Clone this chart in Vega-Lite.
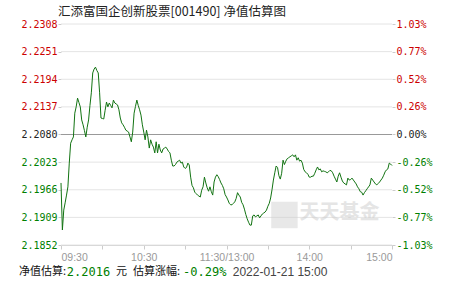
{
  "$schema": "https://vega.github.io/schema/vega-lite/v6.json",
  "width": 331,
  "height": 221,
  "autosize": {"type": "none"},
  "padding": {"left": 61, "top": 24, "right": 59, "bottom": 36},
  "background": "white",
  "title": {"text": "汇添富国企创新股票[001490] 净值估算图", "anchor": "start", "frame": "group", "font": "Noto Sans CJK SC", "fontSize": 12.5, "fontWeight": "normal", "color": "#222", "dx": -3, "offset": 1},
  "config": {"view": {"stroke": null}, "axis": {"labelOverlap": false}},
  "datasets": {
    "levels": [
      {"g": 2.1852}, {"g": 2.1909}, {"g": 2.1966}, {"g": 2.2023}, {"g": 2.208}, {"g": 2.2137}, {"g": 2.2194}, {"g": 2.2251}, {"g": 2.2308}
    ],
    "nav": [
      {"t":0,"v":2.1980},{"t":1,"v":2.1883},{"t":2,"v":2.1924},{"t":3,"v":2.1939},{"t":4,"v":2.1955},{"t":5,"v":2.1972},{"t":6,"v":2.2021},{"t":7,"v":2.2062},{"t":8,"v":2.2069},{"t":9,"v":2.2075},
      {"t":10,"v":2.2124},{"t":11,"v":2.2137},{"t":12,"v":2.2155},{"t":13,"v":2.2146},{"t":14,"v":2.2137},{"t":15,"v":2.2110},{"t":16,"v":2.2100},{"t":17,"v":2.2088},{"t":18,"v":2.2075},{"t":19,"v":2.2095},
      {"t":20,"v":2.2110},{"t":21,"v":2.2140},{"t":22,"v":2.2166},{"t":23,"v":2.2207},{"t":24,"v":2.2215},{"t":25,"v":2.2219},{"t":26,"v":2.2212},{"t":27,"v":2.2207},{"t":28,"v":2.2166},{"t":29,"v":2.2114},
      {"t":30,"v":2.2113},{"t":31,"v":2.2112},{"t":32,"v":2.2130},{"t":33,"v":2.2147},{"t":34,"v":2.2137},{"t":35,"v":2.2145},{"t":36,"v":2.2140},{"t":37,"v":2.2135},{"t":38,"v":2.2151},{"t":39,"v":2.2145},
      {"t":40,"v":2.2143},{"t":41,"v":2.2141},{"t":42,"v":2.2131},{"t":43,"v":2.2114},{"t":44,"v":2.2104},{"t":45,"v":2.2100},{"t":46,"v":2.2095},{"t":47,"v":2.2089},{"t":48,"v":2.2087},{"t":49,"v":2.2085},
      {"t":50,"v":2.2075},{"t":51,"v":2.2065},{"t":52,"v":2.2085},{"t":53,"v":2.2124},{"t":54,"v":2.2138},{"t":55,"v":2.2151},{"t":56,"v":2.2140},{"t":57,"v":2.2131},{"t":58,"v":2.2120},{"t":59,"v":2.2100},
      {"t":60,"v":2.2085},{"t":61,"v":2.2069},{"t":62,"v":2.2089},{"t":63,"v":2.2075},{"t":64,"v":2.2052},{"t":65,"v":2.2069},{"t":66,"v":2.2060},{"t":67,"v":2.2054},{"t":68,"v":2.2042},{"t":69,"v":2.2065},
      {"t":70,"v":2.2042},{"t":71,"v":2.2060},{"t":72,"v":2.2048},{"t":73,"v":2.2042},{"t":74,"v":2.2050},{"t":75,"v":2.2052},{"t":76,"v":2.2054},{"t":77,"v":2.2050},{"t":78,"v":2.2045},{"t":79,"v":2.2042},
      {"t":80,"v":2.2027},{"t":81,"v":2.2015},{"t":82,"v":2.2015},{"t":83,"v":2.2018},{"t":84,"v":2.2023},{"t":85,"v":2.2025},{"t":86,"v":2.2027},{"t":87,"v":2.2021},{"t":88,"v":2.2023},{"t":89,"v":2.2013},
      {"t":90,"v":2.2010},{"t":91,"v":2.2012},{"t":92,"v":2.2021},{"t":93,"v":2.2017},{"t":94,"v":2.1992},{"t":95,"v":2.1975},{"t":96,"v":2.1970},{"t":97,"v":2.1961},{"t":98,"v":2.1958},{"t":99,"v":2.1955},
      {"t":100,"v":2.1953},{"t":101,"v":2.1951},{"t":102,"v":2.1965},{"t":103,"v":2.1972},{"t":104,"v":2.1992},{"t":105,"v":2.1980},{"t":106,"v":2.1970},{"t":107,"v":2.1963},{"t":108,"v":2.1972},{"t":109,"v":2.1962},
      {"t":110,"v":2.1955},{"t":111,"v":2.1982},{"t":112,"v":2.1992},{"t":113,"v":2.1997},{"t":114,"v":2.1993},{"t":115,"v":2.1987},{"t":116,"v":2.1980},{"t":117,"v":2.1975},{"t":118,"v":2.1968},{"t":119,"v":2.1956},
      {"t":120,"v":2.1951},{"t":121,"v":2.1945},{"t":122,"v":2.1938},{"t":123,"v":2.1935},{"t":124,"v":2.1935},{"t":125,"v":2.1938},{"t":126,"v":2.1941},{"t":127,"v":2.1948},{"t":128,"v":2.1960},{"t":129,"v":2.1955},
      {"t":130,"v":2.1951},{"t":131,"v":2.1940},{"t":132,"v":2.1935},{"t":133,"v":2.1926},{"t":134,"v":2.1915},{"t":135,"v":2.1906},{"t":136,"v":2.1899},{"t":137,"v":2.1893},{"t":138,"v":2.1893},{"t":139,"v":2.1912},
      {"t":140,"v":2.1914},{"t":141,"v":2.1910},{"t":142,"v":2.1912},{"t":143,"v":2.1914},{"t":144,"v":2.1908},{"t":145,"v":2.1912},{"t":146,"v":2.1916},{"t":147,"v":2.1918},{"t":148,"v":2.1920},{"t":149,"v":2.1924},
      {"t":150,"v":2.1932},{"t":151,"v":2.1938},{"t":152,"v":2.1949},{"t":153,"v":2.1966},{"t":154,"v":2.1986},{"t":155,"v":2.2001},{"t":156,"v":2.2015},{"t":157,"v":2.2012},{"t":158,"v":2.1995},{"t":159,"v":2.1988},
      {"t":160,"v":2.2000},{"t":161,"v":2.2027},{"t":162,"v":2.2018},{"t":163,"v":2.2025},{"t":164,"v":2.2030},{"t":165,"v":2.2032},{"t":166,"v":2.2034},{"t":167,"v":2.2036},{"t":168,"v":2.2038},{"t":169,"v":2.2034},
      {"t":170,"v":2.2038},{"t":171,"v":2.2027},{"t":172,"v":2.2032},{"t":173,"v":2.2025},{"t":174,"v":2.2027},{"t":175,"v":2.2021},{"t":176,"v":2.2008},{"t":177,"v":2.2003},{"t":178,"v":2.2001},{"t":179,"v":2.1998},
      {"t":180,"v":2.1992},{"t":181,"v":2.1992},{"t":182,"v":2.1994},{"t":183,"v":2.1994},{"t":184,"v":2.2000},{"t":185,"v":2.2007},{"t":186,"v":2.2013},{"t":187,"v":2.2007},{"t":188,"v":2.2009},{"t":189,"v":2.2003},
      {"t":190,"v":2.2005},{"t":191,"v":2.2004},{"t":192,"v":2.2003},{"t":193,"v":2.2001},{"t":194,"v":2.2003},{"t":195,"v":2.2006},{"t":196,"v":2.2005},{"t":197,"v":2.2001},{"t":198,"v":2.1994},{"t":199,"v":2.1988},
      {"t":200,"v":2.1982},{"t":201,"v":2.1994},{"t":202,"v":2.2001},{"t":203,"v":2.1992},{"t":204,"v":2.1984},{"t":205,"v":2.1980},{"t":206,"v":2.1978},{"t":207,"v":2.1976},{"t":208,"v":2.1990},{"t":209,"v":2.1986},
      {"t":210,"v":2.1987},{"t":211,"v":2.1990},{"t":212,"v":2.1986},{"t":213,"v":2.1982},{"t":214,"v":2.1978},{"t":215,"v":2.1972},{"t":216,"v":2.1968},{"t":217,"v":2.1962},{"t":218,"v":2.1961},{"t":219,"v":2.1955},
      {"t":220,"v":2.1960},{"t":221,"v":2.1964},{"t":222,"v":2.1968},{"t":223,"v":2.1972},{"t":224,"v":2.1976},{"t":225,"v":2.1990},{"t":226,"v":2.1986},{"t":227,"v":2.1982},{"t":228,"v":2.1978},{"t":229,"v":2.1976},
      {"t":230,"v":2.1979},{"t":231,"v":2.1982},{"t":232,"v":2.1986},{"t":233,"v":2.1990},{"t":234,"v":2.1996},{"t":235,"v":2.2003},{"t":236,"v":2.2007},{"t":237,"v":2.2009},{"t":238,"v":2.2021},{"t":239,"v":2.2019},
      {"t":240,"v":2.2016}
    ],
    "foot": [
      {"s":"净值估算:","t":-30.5,"k":"lab"},
      {"s":"2.2016","t":4.2,"k":"num"},
      {"s":"元","t":39.8,"k":"lab"},
      {"s":"估算涨幅:","t":52.2,"k":"lab"},
      {"s":"-0.29%","t":88.5,"k":"num"},
      {"s":"2022-01-21 15:00","t":124.5,"k":"date"}
    ]
  },
  "layer": [
    {
      "data": {"name": "levels"},
      "mark": {"type": "rule", "strokeWidth": 1},
      "encoding": {
        "y": {
          "field": "g", "type": "quantitative", "title": null,
          "scale": {"domain": [2.1852, 2.2308], "nice": false, "zero": false},
          "axis": {
            "orient": "right", "values": [2.1852, 2.1909, 2.1966, 2.2023, 2.208, 2.2137, 2.2194, 2.2251, 2.2308],
            "labelExpr": "(datum.value >= 2.208 ? '' : '-') + format(abs(datum.value / 2.208 - 1) * 100, '.2f') + '%'",
            "grid": false, "domain": false, "tickColor": "#cccccc", "tickSize": 3, "labelPadding": 1,
            "labelFont": "DejaVu Sans Mono", "labelFontSize": 10,
            "labelColor": {"expr": "datum.value > 2.2081 ? '#cc0000' : (datum.value < 2.2079 ? '#008000' : '#222222')"},
            "labelOverlap": false
          }
        },
        "color": {"condition": {"test": "abs(datum.g - 2.208) < 0.0001", "value": "#999999"}, "value": "#e4e4e4"}
      }
    },
    {
      "layer": [
        {
          "data": {"values": [{}]},
          "mark": {"type": "point", "shape": "square", "filled": true, "color": "#cccccc", "opacity": 0.45, "size": 700},
          "encoding": {"x": {"datum": 162, "type": "quantitative"}, "y": {"datum": 2.1914, "type": "quantitative", "scale": {"domain": [2.1852, 2.2308], "nice": false, "zero": false}, "axis": null}}
        },
        {
          "data": {"values": [{}]},
          "mark": {"type": "text", "font": "Noto Sans CJK SC", "fontSize": 20, "fontWeight": "bold", "color": "#cccccc", "opacity": 0.5, "align": "center", "baseline": "middle"},
          "encoding": {"x": {"datum": 202, "type": "quantitative"}, "y": {"datum": 2.1918, "type": "quantitative", "scale": {"domain": [2.1852, 2.2308], "nice": false, "zero": false}, "axis": null}, "text": {"value": "天天基金"}}
        },
        {
          "data": {"name": "foot"},
          "transform": [{"filter": "datum.k == 'lab'"}],
          "mark": {"type": "text", "align": "left", "baseline": "middle", "font": "Noto Sans CJK SC", "fontSize": 11, "color": "#111111"},
          "encoding": {"x": {"field": "t", "type": "quantitative"}, "y": {"datum": 2.1796, "type": "quantitative", "scale": {"domain": [2.1852, 2.2308], "nice": false, "zero": false}, "axis": null}, "text": {"field": "s"}}
        },
        {
          "data": {"name": "foot"},
          "transform": [{"filter": "datum.k == 'num'"}],
          "mark": {"type": "text", "align": "left", "baseline": "middle", "font": "DejaVu Sans Mono", "fontSize": 12, "color": "#008000"},
          "encoding": {"x": {"field": "t", "type": "quantitative"}, "y": {"datum": 2.1796, "type": "quantitative", "scale": {"domain": [2.1852, 2.2308], "nice": false, "zero": false}, "axis": null}, "text": {"field": "s"}}
        },
        {
          "data": {"name": "foot"},
          "transform": [{"filter": "datum.k == 'date'"}],
          "mark": {"type": "text", "align": "left", "baseline": "middle", "font": "Liberation Sans", "fontSize": 12, "color": "#444444"},
          "encoding": {"x": {"field": "t", "type": "quantitative"}, "y": {"datum": 2.1796, "type": "quantitative", "scale": {"domain": [2.1852, 2.2308], "nice": false, "zero": false}, "axis": null}, "text": {"field": "s"}}
        }
      ]
    },
    {
      "data": {"name": "nav"},
      "mark": {"type": "line", "color": "#127312", "strokeWidth": 1, "interpolate": "linear"},
      "encoding": {
        "x": {
          "field": "t", "type": "quantitative", "title": null,
          "scale": {"domain": [0, 240], "nice": false, "zero": false},
          "axis": {
            "values": [0, 30, 60, 90, 120, 150, 180, 210, 240],
            "labelExpr": "datum.value == 0 ? '09:30' : datum.value == 60 ? '10:30' : datum.value == 120 ? '11:30/13:00' : datum.value == 180 ? '14:00' : datum.value == 240 ? '15:00' : ''",
            "grid": false, "domainColor": "#cccccc", "tickColor": "#cccccc", "tickSize": 4,
            "labelColor": "#999999", "labelFont": "Liberation Sans", "labelFontSize": 10.5,
            "labelFlush": true, "labelPadding": 3, "labelOverlap": false
          }
        },
        "y": {
          "field": "v", "type": "quantitative", "title": null,
          "scale": {"domain": [2.1852, 2.2308], "nice": false, "zero": false},
          "axis": {
            "orient": "left", "values": [2.1852, 2.1909, 2.1966, 2.2023, 2.208, 2.2137, 2.2194, 2.2251, 2.2308],
            "format": ".4f", "grid": false, "domain": false,
            "tickColor": "#cccccc", "tickSize": 3, "labelPadding": 1,
            "labelFont": "DejaVu Sans Mono", "labelFontSize": 10,
            "labelColor": {"expr": "datum.value > 2.2081 ? '#cc0000' : (datum.value < 2.2079 ? '#008000' : '#222222')"},
            "labelOverlap": false
          }
        }
      }
    }
  ],
  "resolve": {"scale": {"y": "independent"}}
}
